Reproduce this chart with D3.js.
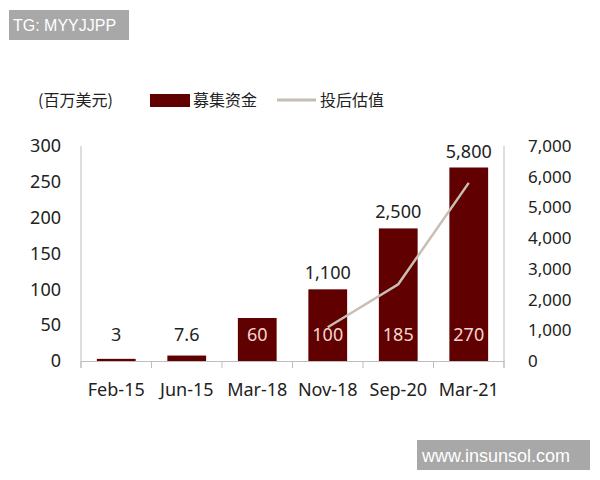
<!DOCTYPE html>
<html><head><meta charset="utf-8">
<script src="https://cdn.jsdelivr.net/npm/d3@7/dist/d3.min.js"></script>
<style>body{margin:0;background:#fff}svg{display:block}</style>
</head><body>
<svg id="c" width="600" height="480"></svg>
<script>
const categories = ["Feb-15","Jun-15","Mar-18","Nov-18","Sep-20","Mar-21"];
const funding = [3, 7.6, 60, 100, 185, 270];
const fundingLabels = ["3","7.6","60","100","185","270"];
const valuationCats = ["Nov-18","Sep-20","Mar-21"];
const valuation = [1100, 2500, 5800];
const valuationLabels = ["1,100","2,500","5,800"];
const leftTicks = [0,50,100,150,200,250,300];
const rightTicks = [0,1000,2000,3000,4000,5000,6000,7000];

const svg = d3.select("#c");
const L = 81, R = 504, T = 146, B = 361;
const font = "Noto Sans, DejaVu Sans, sans-serif";
const cjk = "Noto Sans CJK SC, sans-serif";
const barColor = "#600000";
const axisColor = "#bdbdbd";
const fs = 18;

const x = d3.scaleBand().domain(categories).range([L, R]).paddingInner(0.45).paddingOuter(0.225);
const xb = d3.scaleBand().domain(categories).range([L, R]);
const yL = d3.scaleLinear().domain([0,300]).range([B, T]);
const yR = d3.scaleLinear().domain([0,7000]).range([B, T]);

// watermarks
svg.append("rect").attr("x",9).attr("y",10).attr("width",120).attr("height",30).attr("fill","#a8a8a8");
svg.append("text").attr("x",13).attr("y",31).attr("fill","#fff").attr("font-family","Liberation Sans, Arial, sans-serif").attr("font-size",16).text("TG: MYYJJPP");
svg.append("rect").attr("x",417).attr("y",440).attr("width",173).attr("height",30).attr("fill","#a8a8a8");
svg.append("text").attr("x",422).attr("y",462).attr("fill","#fff").attr("font-family","Liberation Sans, Arial, sans-serif").attr("font-size",18).text("www.insunsol.com");

// legend
svg.append("text").attr("x",38).attr("y",106).attr("font-family",cjk).attr("font-size",16).attr("fill","#222").text("(百万美元)");
svg.append("rect").attr("x",150).attr("y",94).attr("width",40).attr("height",13).attr("fill",barColor);
svg.append("text").attr("x",193).attr("y",106).attr("font-family",cjk).attr("font-size",16).attr("fill","#222").text("募集资金");
svg.append("line").attr("x1",277).attr("x2",316).attr("y1",100).attr("y2",100).attr("stroke","#c4bdb2").attr("stroke-width",3);
svg.append("text").attr("x",320).attr("y",106).attr("font-family",cjk).attr("font-size",16).attr("fill","#222").text("投后估值");

// axes lines
svg.append("line").attr("x1",L).attr("x2",L).attr("y1",T).attr("y2",B+7).attr("stroke",axisColor);
svg.append("line").attr("x1",R).attr("x2",R).attr("y1",T).attr("y2",B+7).attr("stroke",axisColor);

// bars
svg.selectAll("rect.bar").data(funding).join("rect").attr("class","bar")
  .attr("x",(d,i)=>x(categories[i])).attr("width",x.bandwidth())
  .attr("y",d=>yL(d)).attr("height",d=>B-yL(d)).attr("fill",barColor);

// x axis
const xAxis = d3.axisBottom(xb).tickSize(0).tickPadding(0);
const gx = svg.append("g").attr("transform",`translate(0,${B})`).call(xAxis);
gx.select(".domain").attr("stroke",axisColor);
gx.selectAll("text").attr("font-family",font).attr("font-size",fs).attr("fill","#222").attr("dy","1.95em");
// boundary ticks
const bounds = categories.map(c=>xb(c)).concat([R]);
svg.selectAll("line.bt").data(bounds).join("line").attr("class","bt")
  .attr("x1",d=>d).attr("x2",d=>d).attr("y1",B).attr("y2",B+7).attr("stroke",axisColor);

// left axis
const gl = svg.append("g").attr("transform",`translate(${L},0)`).call(d3.axisLeft(yL).tickValues(leftTicks).tickSize(0).tickPadding(20));
gl.select(".domain").remove();
gl.selectAll("text").attr("font-family",font).attr("font-size",fs).attr("fill","#222");

// right axis
const gr = svg.append("g").attr("transform",`translate(${R},0)`).call(d3.axisRight(yR).tickValues(rightTicks).tickSize(0).tickPadding(24).tickFormat(d3.format(",")));
gr.select(".domain").remove();
gr.selectAll("text").attr("font-family",font).attr("font-size",17).attr("fill","#222");

// funding labels
svg.selectAll("text.fl").data(funding).join("text").attr("class","fl")
  .attr("x",(d,i)=>x(categories[i])+x.bandwidth()/2).attr("y",yL(0)-20)
  .attr("text-anchor","middle").attr("font-family",font).attr("font-size",fs)
  .attr("fill",(d,i)=> i<2 ? "#222" : "#f3d6d0")
  .text((d,i)=>fundingLabels[i]);

// valuation line
const line = d3.line().x((d,i)=>x(valuationCats[i])+x.bandwidth()/2).y(d=>yR(d));
svg.append("path").datum(valuation).attr("d",line).attr("fill","none").attr("stroke","#c9beb4").attr("stroke-width",2.5);

// valuation labels above bars
svg.selectAll("text.vl").data(valuation).join("text").attr("class","vl")
  .attr("x",(d,i)=>x(valuationCats[i])+x.bandwidth()/2)
  .attr("y",(d,i)=>yL(funding[categories.indexOf(valuationCats[i])])-10)
  .attr("text-anchor","middle").attr("font-family",font).attr("font-size",fs).attr("fill","#222")
  .text((d,i)=>valuationLabels[i]);
</script>
</body></html>
